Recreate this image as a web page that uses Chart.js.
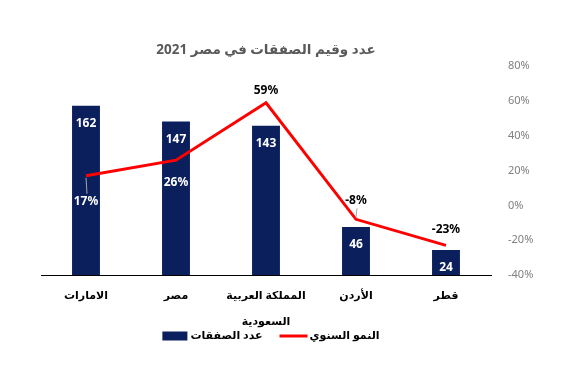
<!DOCTYPE html>
<html>
<head>
<meta charset="utf-8">
<script src="https://cdn.jsdelivr.net/npm/chart.js@4"></script>
<style>
  html, body { margin: 0; padding: 0; background: #fff; }
  #wrap { width: 580px; height: 376px; }
</style>
</head>
<body>
<div id="wrap"><canvas id="c"></canvas></div>
<script>
const categories = ['الامارات', 'مصر', ['المملكة العربية', 'السعودية'], 'الأردن', 'قطر'];
const dealCounts = [162, 147, 143, 46, 24];
const growthPct = [17, 26, 59, -8, -23];
const growthTicks = [80, 60, 40, 20, 0, -20, -40];

// label placement for the growth line (px from the point, + is below)
const growthLabelOffset = [26, 22, -12, -19, -16];
const growthLabelColor = ['#fff', '#fff', '#000', '#000', '#000'];
const growthLeader = [true, false, false, true, false];

const FONT = "'Noto Sans', 'DejaVu Sans', sans-serif";

const valueLabels = {
  id: 'valueLabels',
  afterDatasetsDraw(chart) {
    const ctx = chart.ctx;
    ctx.save();
    ctx.font = 'bold 12px ' + FONT;
    ctx.textAlign = 'center';
    ctx.textBaseline = 'middle';

    chart.getDatasetMeta(1).data.forEach((bar, i) => {
      ctx.fillStyle = '#fff';
      ctx.fillText(dealCounts[i], bar.x, bar.y + 18);
    });

    chart.getDatasetMeta(0).data.forEach((pt, i) => {
      const off = growthLabelOffset[i];
      if (growthLeader[i]) {
        ctx.strokeStyle = '#a6a6a6';
        ctx.lineWidth = 1;
        ctx.beginPath();
        const dir = Math.sign(off);
        ctx.moveTo(pt.x, pt.y + dir * 2);
        ctx.lineTo(pt.x + 1, pt.y + off - dir * 8);
        ctx.stroke();
      }
      ctx.fillStyle = growthLabelColor[i];
      ctx.fillText(growthPct[i] + '%', pt.x, pt.y + off);
    });
    ctx.restore();
  }
};

// legend drawn by hand: the built-in one cannot sit this close to the axis labels
const bottomLegend = {
  id: 'bottomLegend',
  afterDraw(chart) {
    const ctx = chart.ctx;
    const area = chart.chartArea;
    const [lineDs, barDs] = chart.data.datasets;
    ctx.save();
    ctx.font = 'bold 11px ' + FONT;
    ctx.textBaseline = 'middle';
    ctx.textAlign = 'left';
    const w1 = ctx.measureText(barDs.label).width;
    const w2 = ctx.measureText(lineDs.label).width;
    const total = 25 + 3 + w1 + 17 + 28 + 2 + w2;
    let x = (area.left + area.right) / 2 + 5 - total / 2;
    const y = area.bottom + 61;

    ctx.fillStyle = barDs.backgroundColor;
    ctx.fillRect(x, y - 4.5, 25, 9);
    x += 28;
    ctx.fillStyle = '#000';
    ctx.fillText(barDs.label, x, y);
    x += w1 + 17;

    ctx.strokeStyle = lineDs.borderColor;
    ctx.lineWidth = 3;
    ctx.beginPath();
    ctx.moveTo(x, y);
    ctx.lineTo(x + 28, y);
    ctx.stroke();
    x += 30;
    ctx.fillText(lineDs.label, x, y);
    ctx.restore();
  }
};

new Chart(document.getElementById('c'), {
  data: {
    labels: categories,
    datasets: [
      {
        type: 'line',
        label: 'النمو السنوي',
        data: growthPct,
        yAxisID: 'y1',
        borderColor: '#ff0000',
        backgroundColor: '#ff0000',
        borderWidth: 3,
        pointRadius: 0,
        tension: 0,
        order: 0,
      },
      {
        type: 'bar',
        label: 'عدد الصفقات',
        data: dealCounts,
        yAxisID: 'y',
        backgroundColor: '#0a1f5c',
        borderWidth: 0,
        categoryPercentage: 1,
        barPercentage: 0.31,
        order: 1,
      },
    ],
  },
  options: {
    responsive: true,
    maintainAspectRatio: false,
    animation: false,
    layout: { padding: { left: 41, right: 0, top: 42, bottom: 41 } },
    scales: {
      x: {
        grid: { display: false, drawTicks: false },
        border: { display: true, color: '#000', width: 1 },
        afterFit: axis => { axis.height = 60; },
        ticks: {
          color: '#000',
          font: { family: FONT, size: 11, weight: 'bold', lineHeight: 2.36 },
          autoSkip: false,
          maxRotation: 0,
          padding: 8,
        },
      },
      y: {
        display: false,
        min: 0,
        max: 200,
      },
      y1: {
        position: 'right',
        min: -40,
        max: 80,
        afterBuildTicks: axis => { axis.ticks = growthTicks.map(v => ({ value: v })); },
        afterFit: axis => { axis.width = 89; },
        grid: { display: false, drawTicks: false },
        border: { display: false },
        ticks: {
          color: '#7f7f7f',
          font: { family: FONT, size: 11 },
          padding: 17,
          callback: v => v + '%',
        },
      },
    },
    plugins: {
      title: {
        display: true,
        fullSize: false,
        text: 'عدد وقيم الصفقات في مصر 2021',
        color: '#595959',
        font: { family: FONT, size: 13.5, weight: 'bold' },
        padding: { top: 0, bottom: 8 },
      },
      legend: { display: false },
      tooltip: { enabled: false },
    },
  },
  plugins: [valueLabels, bottomLegend],
});
</script>
</body>
</html>
